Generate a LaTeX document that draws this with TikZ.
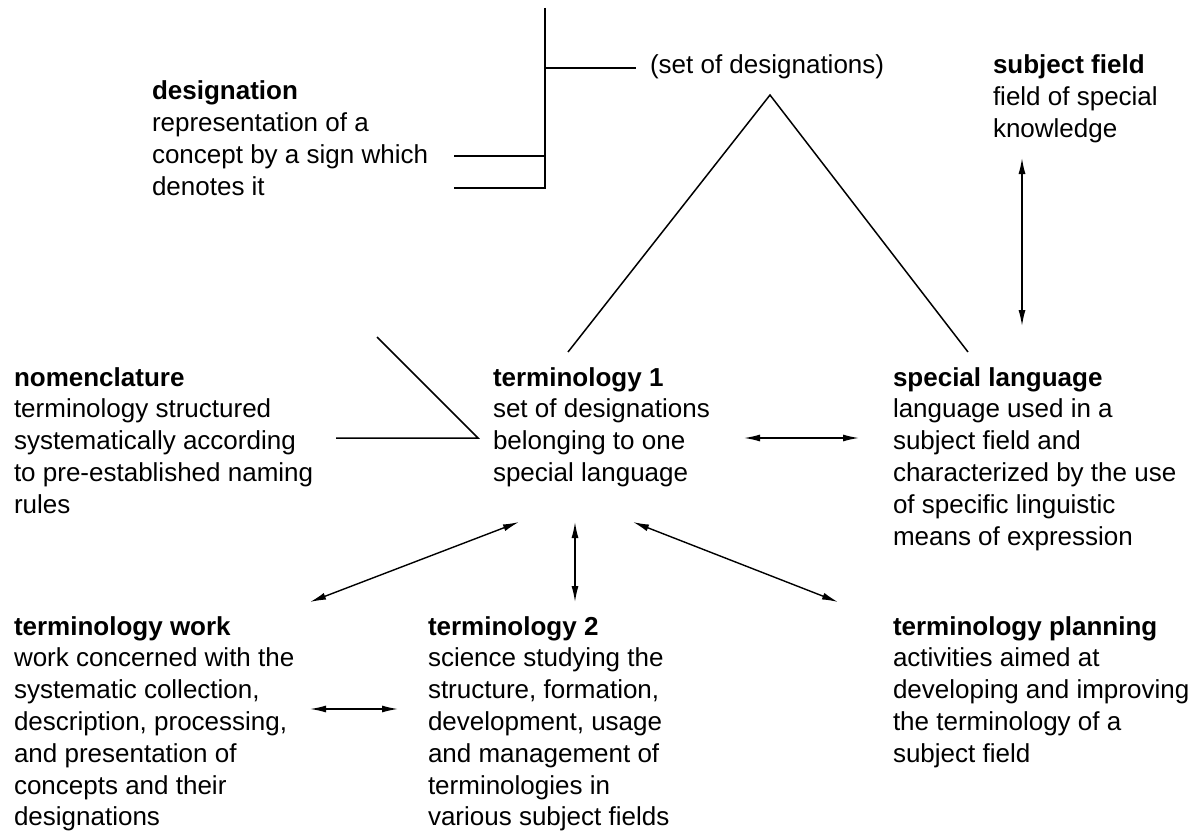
\documentclass[tikz,border=0pt]{standalone}
\usepackage{fontspec}
\setmainfont{Liberation Sans}
\usetikzlibrary{arrows.meta}
\begin{document}
\begin{tikzpicture}[x=1pt,y=-1pt,
  txt/.style={anchor=base west,inner sep=0pt,outer sep=0pt},
  ln/.style={line width=1.5pt},
  dbl/.style={line width=1.4pt,{Latex[length=16pt,width=7pt]}-{Latex[length=16pt,width=7pt]}}]
\newcommand{\blk}[2]{\fontsize{26}{31.8}\selectfont\begin{tabular}[t]{@{}l@{}}\textbf{#1}\\#2\end{tabular}}
\useasboundingbox[fill=white] (0,0) rectangle (1202,832);
% text blocks
\node[txt] (desig) at (152,100) {\blk{designation}{representation of a\\concept by a sign which\\denotes it}};
\node[txt] (setdes) at (650,74) {\fontsize{26}{31.8}\selectfont (set of designations)};
\node[txt] (subj) at (993,74) {\blk{subject field}{field of special\\knowledge}};
\node[txt] (nomen) at (14,386) {\blk{nomenclature}{terminology structured\\systematically according\\to pre-established naming\\rules}};
\node[txt] (term1) at (493,386) {\blk{terminology 1}{set of designations\\belonging to one\\special language}};
\node[txt] (spec) at (893,386) {\blk{special language}{language used in a\\subject field and\\characterized by the use\\of specific linguistic\\means of expression}};
\node[txt] (twork) at (14,635) {\blk{terminology work}{work concerned with the\\systematic collection,\\description, processing,\\and presentation of\\concepts and their\\designations}};
\node[txt] (term2) at (428,635) {\blk{terminology 2}{science studying the\\structure, formation,\\development, usage\\and management of\\terminologies in\\various subject fields}};
\node[txt] (tplan) at (893,635) {\blk{terminology planning}{activities aimed at\\developing and improving\\the terminology of a\\subject field}};
% connector points
\coordinate (brTop) at (545,8);
\coordinate (brSet) at (545,68);
\coordinate (setL) at (636,68);
\coordinate (brA) at (545,156);
\coordinate (dA) at (454,156);
\coordinate (brB) at (545,188);
\coordinate (dB) at (454,188);
\coordinate (apex) at (770,95);
\coordinate (t1top) at (568,352);
\coordinate (sltop) at (968,352);
\coordinate (nDiag) at (377,337);
\coordinate (nCorner) at (478,438);
\coordinate (nLeft) at (336,438);
\coordinate (sfBot) at (1022,158);
\coordinate (slTopA) at (1022,326);
\coordinate (t1R) at (744,438);
\coordinate (slL) at (859,438);
\coordinate (t1bl) at (519,522);
\coordinate (twTop) at (310,602);
\coordinate (t1bc) at (575,522);
\coordinate (t2Top) at (575,602);
\coordinate (t1br) at (633,522);
\coordinate (tpTop) at (838,602);
\coordinate (twR) at (310,709);
\coordinate (t2L) at (398,709);
% lines
\draw[ln] (brTop) -- (brB) -- (dB);
\draw[ln] (brSet) -- (setL);
\draw[ln] (brA) -- (dA);
\draw[ln] (t1top) -- (apex) -- (sltop);
\draw[ln] (nDiag) -- (nCorner) -- (nLeft);
% arrows
\draw[dbl] (sfBot) -- (slTopA);
\draw[dbl] (t1R) -- (slL);
\draw[dbl] (t1bl) -- (twTop);
\draw[dbl] (t1bc) -- (t2Top);
\draw[dbl] (t1br) -- (tpTop);
\draw[dbl] (twR) -- (t2L);
\end{tikzpicture}
\end{document}
